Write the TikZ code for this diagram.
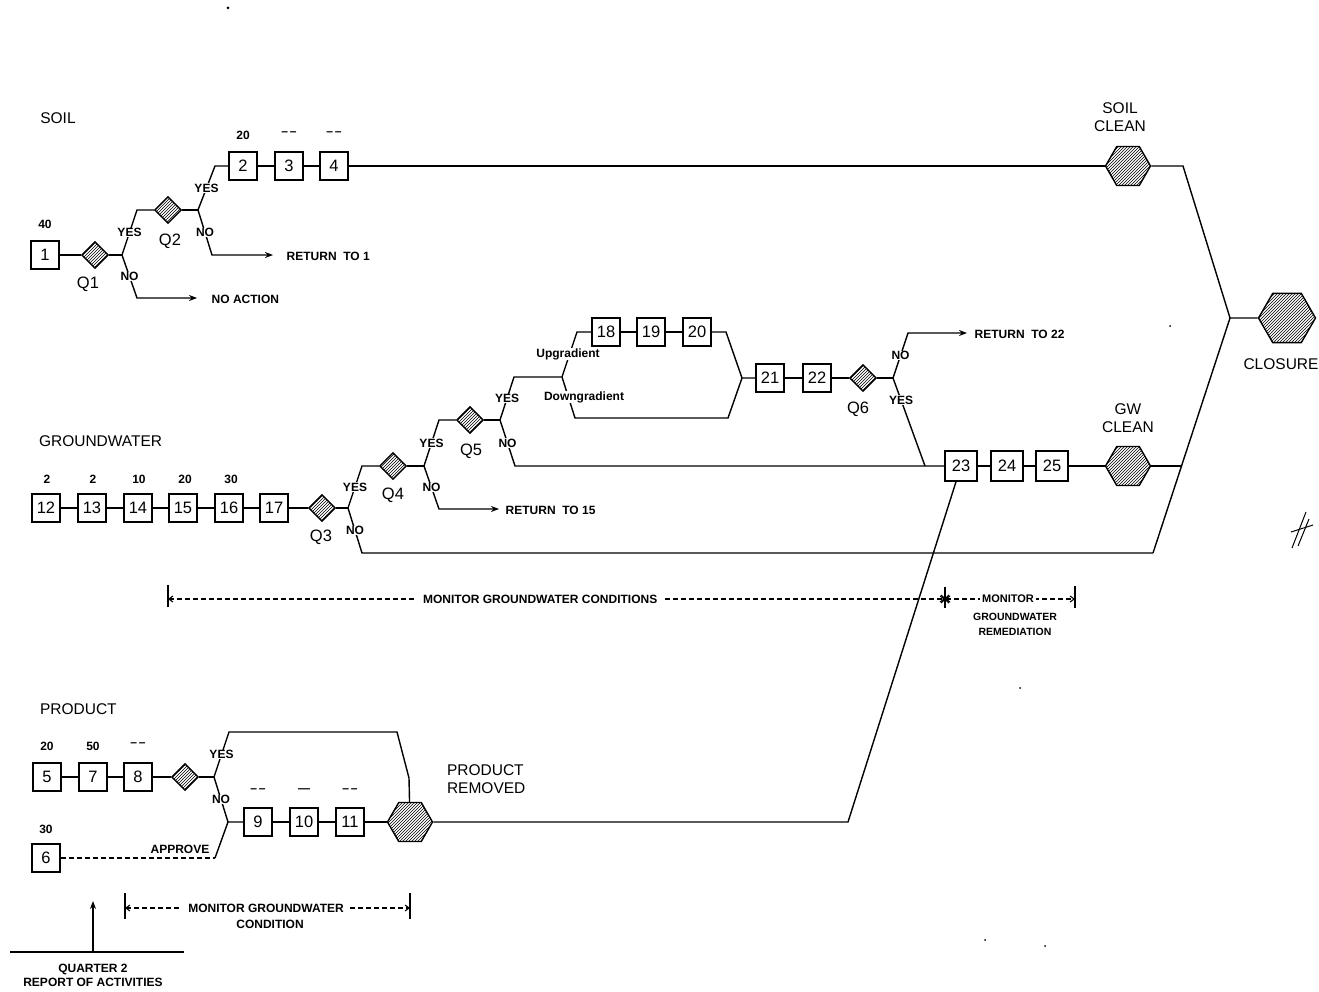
\documentclass[tikz,border=0pt]{standalone}
\usepackage{fontspec}
\setmainfont{Liberation Sans}
\usetikzlibrary{patterns,shapes.geometric,arrows.meta,calc}
\begin{document}
\begin{tikzpicture}[x=1pt,y=-1pt, line width=1.4pt,
  box/.style={draw, minimum width=28pt, minimum height=28pt, inner sep=1pt, font=\fontsize{16.5}{16}\selectfont},
  wbox/.style={box, minimum width=32pt, minimum height=30pt},
  dq/.style={diamond, draw, pattern=north east lines, minimum width=27pt, minimum height=27pt, inner sep=0pt},
  hexa/.style={regular polygon, regular polygon sides=6, draw, pattern=north east lines, minimum size=45pt, inner sep=0pt},
  sm/.style={font=\fontsize{12}{13}\selectfont\bfseries, inner sep=1pt},
  num/.style={font=\fontsize{12}{13}\selectfont\bfseries, inner sep=1pt},
  yn/.style={font=\fontsize{12}{12}\selectfont\bfseries, fill=white, inner sep=0.5pt},
  ql/.style={font=\fontsize{16.5}{16}\selectfont},
  hd/.style={font=\fontsize{15.5}{18}\selectfont, align=center},
  arr/.style={-{Stealth[length=8pt,width=6pt]}},
  dsh/.style={dash pattern=on 5pt off 3pt, line width=1.1pt},
  mdim/.style={dsh, {Straight Barb[length=4pt,width=6pt]}-{Straight Barb[length=4pt,width=6pt]}},
]
\fill[white] (0,0) rectangle (1319,992);
\useasboundingbox (0,0) rectangle (1319,992);

% ---------------- SOIL ----------------
\node[hd] (tsoil) at (58,118) {SOIL};
\node[box] (b1) at (45,255) {1};
\node[num] (n1) at (45,224) {40};
\node[dq] (q1) at (95,255) {};
\node[ql] (tq1) at (88,284) {Q1};
\coordinate (j1) at (122,255);
\coordinate (k1y) at (137,210);
\coordinate (k1n) at (137,298);
\coordinate (e1n) at (197,298);
\node[dq] (q2) at (168,210) {};
\node[ql] (tq2) at (170,241) {Q2};
\coordinate (j2) at (198,210);
\coordinate (k2y) at (215,166);
\coordinate (k2n) at (212,255);
\coordinate (e2n) at (273,255);
\node[box] (b2) at (243,166) {2};
\node[box] (b3) at (289,166) {3};
\node[box] (b4) at (334,166) {4};
\node[num] (n2) at (243,135) {20};
\node[num] (n3) at (289,134) {--\,--};
\node[num] (n4) at (334,134) {--\,--};
\node[sm, anchor=west] (r1) at (285,256) {RETURN\ \ TO 1};
\node[sm, anchor=west] (na) at (210,299) {NO ACTION};

\draw (b1) -- (q1) -- (j1);
\draw (j1) -- node[yn] (y1) {YES} (k1y) -- (q2);
\draw[arr] (j1) -- node[yn] (no1) {NO} (k1n) -- (e1n);
\draw (q2) -- (j2);
\draw (j2) -- node[yn] (y2) {YES} (k2y) -- (b2);
\draw[arr] (j2) -- node[yn] (no2) {NO} (k2n) -- (e2n);
\draw (b2) -- (b3);
\draw (b3) -- (b4);

% ---------------- RIGHT SIDE ----------------
\node[hexa] (sc) at (1128,166) {};
\node[hd] (tsc) at (1120,117) {SOIL\\CLEAN};
\node[hexa, minimum size=57pt] (cl) at (1287,318) {};
\node[hd] (tcl) at (1281,364) {CLOSURE};
\coordinate (ks) at (1183,166);
\coordinate (jc) at (1230,318);
\coordinate (kg) at (1153,553);
\coordinate (gj) at (1181,466);
\draw (b4) -- (sc);
\draw (sc) -- (ks) -- (jc) -- (cl);
\draw (kg) -- (jc);

% ---------------- GROUNDWATER ----------------
\node[hd, anchor=west] (tgw) at (35,441) {GROUNDWATER};
\node[box] (b12) at (46,508) {12};
\node[box] (b13) at (92,508) {13};
\node[box] (b14) at (138,508) {14};
\node[box] (b15) at (183,508) {15};
\node[box] (b16) at (229,508) {16};
\node[box] (b17) at (274,508) {17};
\node[num] (n12) at (47,479) {2};
\node[num] (n13) at (93,479) {2};
\node[num] (n14) at (139,479) {10};
\node[num] (n15) at (185,479) {20};
\node[num] (n16) at (231,479) {30};
\node[dq] (q3) at (322,508) {};
\node[ql] (tq3) at (321,537) {Q3};
\coordinate (j3) at (348,508);
\coordinate (k3y) at (362,466);
\coordinate (k3n) at (362,553);
\node[dq] (q4) at (393,466) {};
\node[ql] (tq4) at (393,495) {Q4};
\coordinate (j4) at (424,466);
\coordinate (k4y) at (439,420);
\coordinate (k4n) at (439,509);
\coordinate (e4n) at (499,509);
\node[sm, anchor=west] (r15) at (504,510) {RETURN\ \ TO 15};
\node[dq] (q5) at (470,420) {};
\node[ql] (tq5) at (471,451) {Q5};
\coordinate (j5) at (500,420);
\coordinate (k5y) at (514,377);
\coordinate (k5n) at (515,466);
\coordinate (ju) at (562,377);
\coordinate (ku) at (577,332);
\coordinate (kd) at (575,418);
\coordinate (kd2) at (728,418);
\coordinate (ku2) at (726,332);
\coordinate (jm) at (742,378);
\node[box] (b18) at (606,332) {18};
\node[box] (b19) at (651,332) {19};
\node[box] (b20) at (697,332) {20};
\node[box] (b21) at (770,378) {21};
\node[box] (b22) at (817,378) {22};
\node[dq] (q6) at (863,378) {};
\node[ql] (tq6) at (858,409) {Q6};
\coordinate (j6) at (893,378);
\coordinate (k6n) at (908,333);
\coordinate (e6n) at (967,333);
\node[sm, anchor=west] (r22) at (973,334) {RETURN\ \ TO 22};
\coordinate (k6y) at (925,466);
\node[wbox] (b23) at (961,466) {23};
\node[wbox] (b24) at (1007,466) {24};
\node[wbox] (b25) at (1052,466) {25};
\node[hexa] (gc) at (1128,466) {};
\node[hd] (tgc) at (1128,418) {GW\\CLEAN};

\draw (b12) -- (b13);
\draw (b13) -- (b14);
\draw (b14) -- (b15);
\draw (b15) -- (b16);
\draw (b16) -- (b17);
\draw (b17) -- (q3) -- (j3);
\draw (j3) -- node[yn] (y3) {YES} (k3y) -- (q4);
\draw (j3) -- node[yn] (no3) {NO} (k3n) -- (kg);
\draw (q4) -- (j4);
\draw (j4) -- node[yn] (y4) {YES} (k4y) -- (q5);
\draw[arr] (j4) -- node[yn] (no4) {NO} (k4n) -- (e4n);
\draw (q5) -- (j5);
\draw (j5) -- node[yn] (y5) {YES} (k5y) -- (ju);
\draw (j5) -- node[yn] (no5) {NO} (k5n) -- (b23);
\draw (ju) -- (ku) -- (b18);
\draw (ju) -- (kd) -- (kd2) -- (jm);
\node[yn] (tup) at (568,354) {Upgradient};
\node[yn] (tdown) at (584,397) {Downgradient};
\draw (b18) -- (b19);
\draw (b19) -- (b20);
\draw (b20) -- (ku2) -- (jm) -- (b21);
\draw (b21) -- (b22);
\draw (b22) -- (q6) -- (j6);
\draw[arr] (j6) -- node[yn] (no6) {NO} (k6n) -- (e6n);
\draw (j6) -- node[yn, pos=0.25] (y6) {YES} (k6y);
\draw (b23) -- (b24);
\draw (b24) -- (b25);
\draw (b25) -- (gc);
\draw (gc) -- (gj);

% ---------------- PRODUCT ----------------
\node[hd, anchor=west] (tpr) at (36,709) {PRODUCT};
\node[box] (b5) at (47,777) {5};
\node[box] (b7) at (93,777) {7};
\node[box] (b8) at (138,777) {8};
\node[num] (n5) at (47,746) {20};
\node[num] (n7) at (93,746) {50};
\node[num] (n8) at (138,745) {--\,--};
\node[dq] (qp) at (185,777) {};
\coordinate (jp) at (214,777);
\coordinate (kpy) at (229,732);
\coordinate (kpy2) at (397,732);
\coordinate (kpy3) at (409,778);
\node[hexa] (pr) at (410,822) {};
\node[hd, anchor=west, align=left] (tprr) at (443,779) {PRODUCT\\REMOVED};
\coordinate (ja) at (228,822);
\node[box] (b9) at (258,822) {9};
\node[box] (b10) at (304,822) {10};
\node[box] (b11) at (350,822) {11};
\node[num] (n9) at (258,791) {--\,--};
\node[num] (n10) at (304,791) {---};
\node[num] (n11) at (350,791) {--\,--};
\node[box] (b6) at (46,858) {6};
\node[num] (n6) at (46,829) {30};
\coordinate (ka) at (215,858);
\coordinate (kr) at (848,822);

\draw (b5) -- (b7);
\draw (b7) -- (b8);
\draw (b8) -- (qp) -- (jp);
\draw (jp) -- node[yn] (yp) {YES} (kpy) -- (kpy2) -- (kpy3) -- (pr);
\draw (jp) -- node[yn] (nop) {NO} (ja) -- (b9);
\draw (b9) -- (b10);
\draw (b10) -- (b11);
\draw (b11) -- (pr);
\draw[dsh] (b6) -- (ka);
\draw (ka) -- (ja);
\node[sm] (tap) at (180,849) {APPROVE};
\draw (pr) -- (kr) -- (b23);

% ---------------- MONITOR DIMENSIONS ----------------
\coordinate (m1l) at (168,599);
\coordinate (m1r) at (945,599);
\coordinate (m1a) at (168,585);
\coordinate (m1b) at (168,607);
\coordinate (m2r) at (1075,599);
\coordinate (m2a) at (1075,586);
\coordinate (m2b) at (1075,608);
\coordinate (sa) at (945,587);
\coordinate (sb) at (945,608);
\draw (m1a) -- (m1b);
\draw (m2a) -- (m2b);
\draw[line width=1.1pt] (sa) -- (sb);
\draw[line width=1.1pt] (941,595) -- (949,603) (941,603) -- (949,595);
\draw[mdim] (m1l) -- node[sm, fill=white, inner xsep=6pt, pos=0.479] (tm1) {MONITOR GROUNDWATER CONDITIONS} (m1r);
\draw[mdim] (m1r) -- node[sm, fill=white, inner xsep=2pt, pos=0.485, font=\fontsize{11}{11}\selectfont\bfseries] (tm2) {MONITOR} (m2r);
\node[sm, align=center, font=\fontsize{10.5}{15}\selectfont\bfseries] (tm2b) at (1015,624) {GROUNDWATER\\REMEDIATION};

\coordinate (p1l) at (125,908);
\coordinate (p1r) at (410,908);
\coordinate (p1a) at (125,893);
\coordinate (p1b) at (125,919);
\coordinate (p2a) at (410,893);
\coordinate (p2b) at (410,919);
\draw (p1a) -- (p1b);
\draw (p2a) -- (p2b);
\draw[mdim] (p1l) -- node[sm, fill=white, inner xsep=6pt, pos=0.495] (tp1) {MONITOR GROUNDWATER} (p1r);
\node[sm] (tp2) at (270,924) {CONDITION};

% ---------------- QUARTER ----------------
\coordinate (qa) at (10,952);
\coordinate (qb) at (184,952);
\coordinate (qc) at (93,952);
\coordinate (qd) at (93,901);
\draw (qa) -- (qb);
\draw[arr] (qc) -- (qd);
\node[sm, align=center, font=\fontsize{12}{14}\selectfont\bfseries] (tq) at (93,975) {QUARTER 2\\REPORT OF ACTIVITIES};

% ---------------- stray marks ----------------
\draw[line width=1pt] (1292,548) -- (1306,512);
\draw[line width=1pt] (1298,546) -- (1309,519);
\draw[line width=1pt] (1291,532) -- (1313,525);
\fill (228,8) circle (1.5);
\fill (1170,326) circle (1);
\fill (1020,688) circle (1);
\fill (985,940) circle (1);
\fill (1045,946) circle (1);
\end{tikzpicture}
\end{document}
